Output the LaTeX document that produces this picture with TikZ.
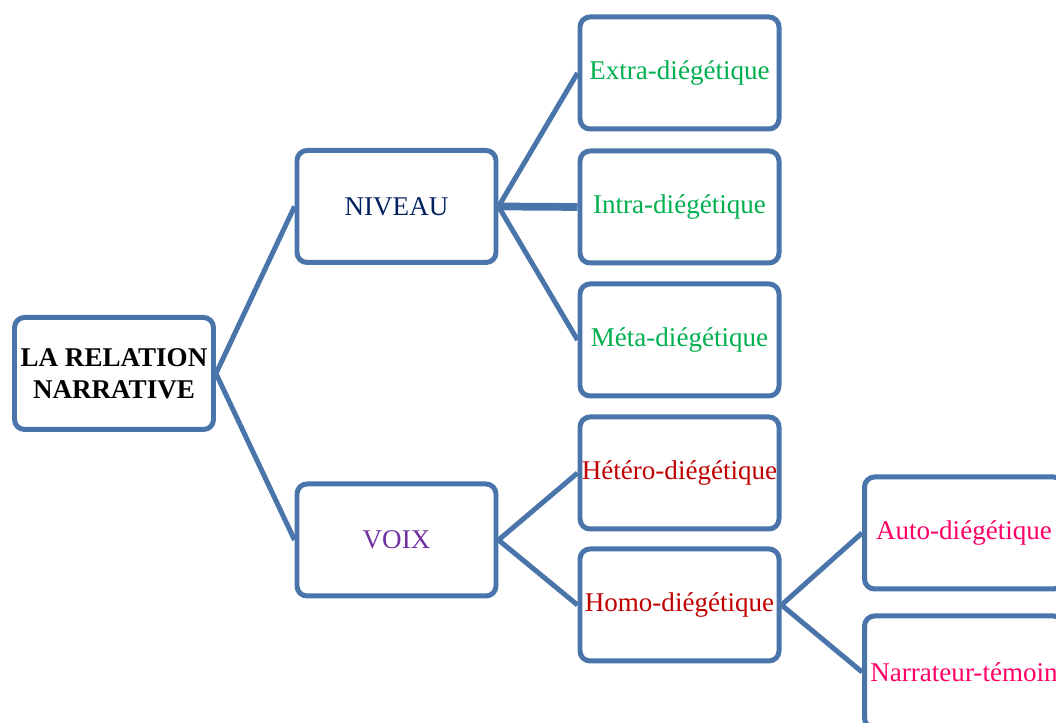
\documentclass[tikz,border=0pt]{standalone}
\usepackage{fontspec}
\setmainfont{Liberation Serif}
\definecolor{trait}{RGB}{74,117,170}
\definecolor{marine}{RGB}{0,32,96}
\definecolor{violet}{RGB}{112,48,160}
\definecolor{vert}{RGB}{0,176,80}
\definecolor{rouge}{RGB}{192,0,0}
\definecolor{rose}{RGB}{255,0,102}
\begin{document}
\begin{tikzpicture}[
    boite/.style={draw=trait, line width=1.42pt, rounded corners=0.1cm, fill=white,
        minimum width=1.99cm, minimum height=1.12cm, inner sep=0pt,
        font=\fontsize{7.7}{9}\selectfont, align=center},
    lien/.style={draw=trait, line width=1.42pt}]
    \useasboundingbox (0, 0) rectangle (10.56, -7.23);
        % premier niveau
        \node[boite] (rel) at (1.14, -3.735) {\textbf{LA RELATION}\\\textbf{NARRATIVE}};
        \node[boite, text=marine] (niv) at (3.965, -2.065) {NIVEAU};
        \node[boite, text=violet] (voix) at (3.965, -5.40) {VOIX};
        % niveau
        \node[boite, text=vert] (extra) at (6.795, -0.73) {Extra-di\'eg\'etique};
        \node[boite, text=vert] (intra) at (6.795, -2.07) {Intra-di\'eg\'etique};
        \node[boite, text=vert] (meta) at (6.795, -3.40) {M\'eta-di\'eg\'etique};
        % voix
        \node[boite, text=rouge] (hetero) at (6.795, -4.73) {H\'et\'ero-di\'eg\'etique};
        \node[boite, text=rouge] (homo) at (6.795, -6.05) {Homo-di\'eg\'etique};
        \node[boite, text=rose] (auto) at (9.64, -5.33) {Auto-di\'eg\'etique};
        \node[boite, text=rose] (temoin) at (9.64, -6.72) {Narrateur-t\'emoin};
        \draw[lien] (rel.east) -- (niv.west);
        \draw[lien] (rel.east) -- (voix.west);
        \draw[lien] (niv.east) -- (extra.west);
        \draw[lien, line width=2.2pt] (niv.east) -- (intra.west);
        \draw[lien] (niv.east) -- (meta.west);
        \draw[lien] (voix.east) -- (hetero.west);
        \draw[lien] (voix.east) -- (homo.west);
        \draw[lien] (homo.east) -- (auto.west);
        \draw[lien] (homo.east) -- (temoin.west);
    \end{tikzpicture}
\end{document}
